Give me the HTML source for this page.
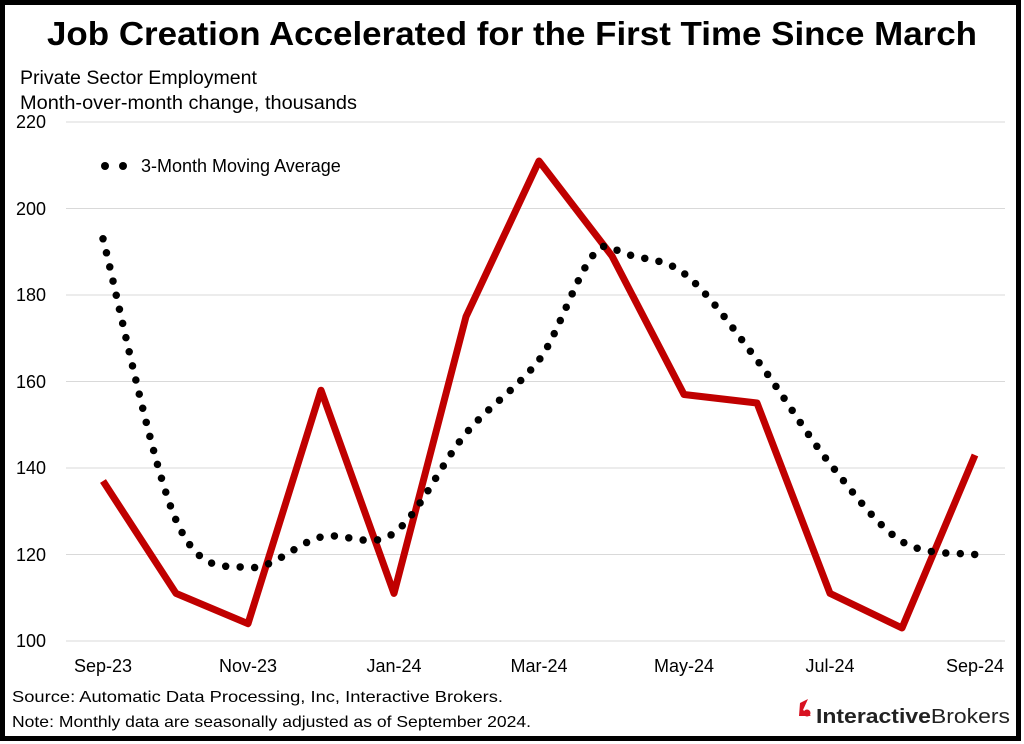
<!DOCTYPE html>
<html><head><meta charset="utf-8"><style>
html,body{margin:0;padding:0;background:#fff;}
svg{display:block;font-family:"Liberation Sans",sans-serif;}
</style></head><body>
<svg width="1024" height="744" viewBox="0 0 1024 744" xmlns="http://www.w3.org/2000/svg">
<rect x="0" y="0" width="1024" height="744" fill="#fff"/>
<rect x="2.5" y="2.5" width="1016" height="736" fill="none" stroke="#000" stroke-width="5"/>
<text x="512" y="45" text-anchor="middle" font-size="33" font-weight="bold" textLength="930" lengthAdjust="spacingAndGlyphs">Job Creation Accelerated for the First Time Since March</text>
<text x="20" y="84" font-size="19" textLength="237" lengthAdjust="spacingAndGlyphs">Private Sector Employment</text>
<text x="20" y="109" font-size="19" textLength="337" lengthAdjust="spacingAndGlyphs">Month-over-month change, thousands</text>
<g stroke="#d9d9d9" stroke-width="1">
<line x1="66" y1="122" x2="1005" y2="122"/>
<line x1="66" y1="208.5" x2="1005" y2="208.5"/>
<line x1="66" y1="295" x2="1005" y2="295"/>
<line x1="66" y1="381.5" x2="1005" y2="381.5"/>
<line x1="66" y1="468" x2="1005" y2="468"/>
<line x1="66" y1="554.5" x2="1005" y2="554.5"/>
<line x1="66" y1="641" x2="1005" y2="641"/>
</g>
<g font-size="18" text-anchor="end">
<text x="46" y="128">220</text>
<text x="46" y="215">200</text>
<text x="46" y="301">180</text>
<text x="46" y="388">160</text>
<text x="46" y="474">140</text>
<text x="46" y="561">120</text>
<text x="46" y="647">100</text>
</g>
<g font-size="18" text-anchor="middle">
<text x="103" y="672">Sep-23</text>
<text x="248" y="672">Nov-23</text>
<text x="394" y="672">Jan-24</text>
<text x="539" y="672">Mar-24</text>
<text x="684" y="672">May-24</text>
<text x="830" y="672">Jul-24</text>
<text x="975" y="672">Sep-24</text>
</g>
<polyline fill="none" stroke="#c00000" stroke-width="7" stroke-linejoin="round" points="103,481 176,593.4 248,623.7 321,390.2 394,593.4 466,316.6 539,161 612,256 684,394.5 757,403 830,593.4 902,628 975,455"/>
<path fill="none" stroke="#000" stroke-width="7.5" stroke-linecap="round" stroke-dasharray="0 14.5" d="M103,238.8 C115.2,285.7 151.8,465.2 176,520 C200.2,574.8 223.8,564.7 248,567.5 C272.2,570.3 296.7,542.8 321,537 C345.3,531.2 369.8,550.3 394,533 C418.2,515.7 441.8,462.2 466,433.4 C490.2,404.6 514.7,391 539,360 C563.3,329 587.8,232.5 612,247.4 C636.2,262.3 659.8,254.6 684,273.4 C708.2,292.2 732.7,328.3 757,360 C781.3,391.7 805.8,433.5 830,463.7 C854.2,494 877.8,526.4 902,541.5 C926.2,556.6 962.8,552.3 975,554.5"/>
<circle cx="105" cy="166" r="4" fill="#000"/>
<circle cx="123" cy="166" r="4" fill="#000"/>
<text x="141" y="172" font-size="18">3-Month Moving Average</text>
<text x="12" y="702" font-size="16" textLength="491" lengthAdjust="spacingAndGlyphs">Source: Automatic Data Processing, Inc, Interactive Brokers.</text>
<text x="12" y="727" font-size="16" textLength="519" lengthAdjust="spacingAndGlyphs">Note: Monthly data are seasonally adjusted as of September 2024.</text>
<path d="M800,703 L808,699 L803,710 L811,716 L799,716 Z" fill="#d81222"/>
<circle cx="807" cy="713" r="3.5" fill="#d81222"/>
<text x="816" y="723" font-size="20" fill="#222" textLength="194" lengthAdjust="spacingAndGlyphs"><tspan font-weight="bold">Interactive</tspan>Brokers</text>
</svg>
</body></html>
